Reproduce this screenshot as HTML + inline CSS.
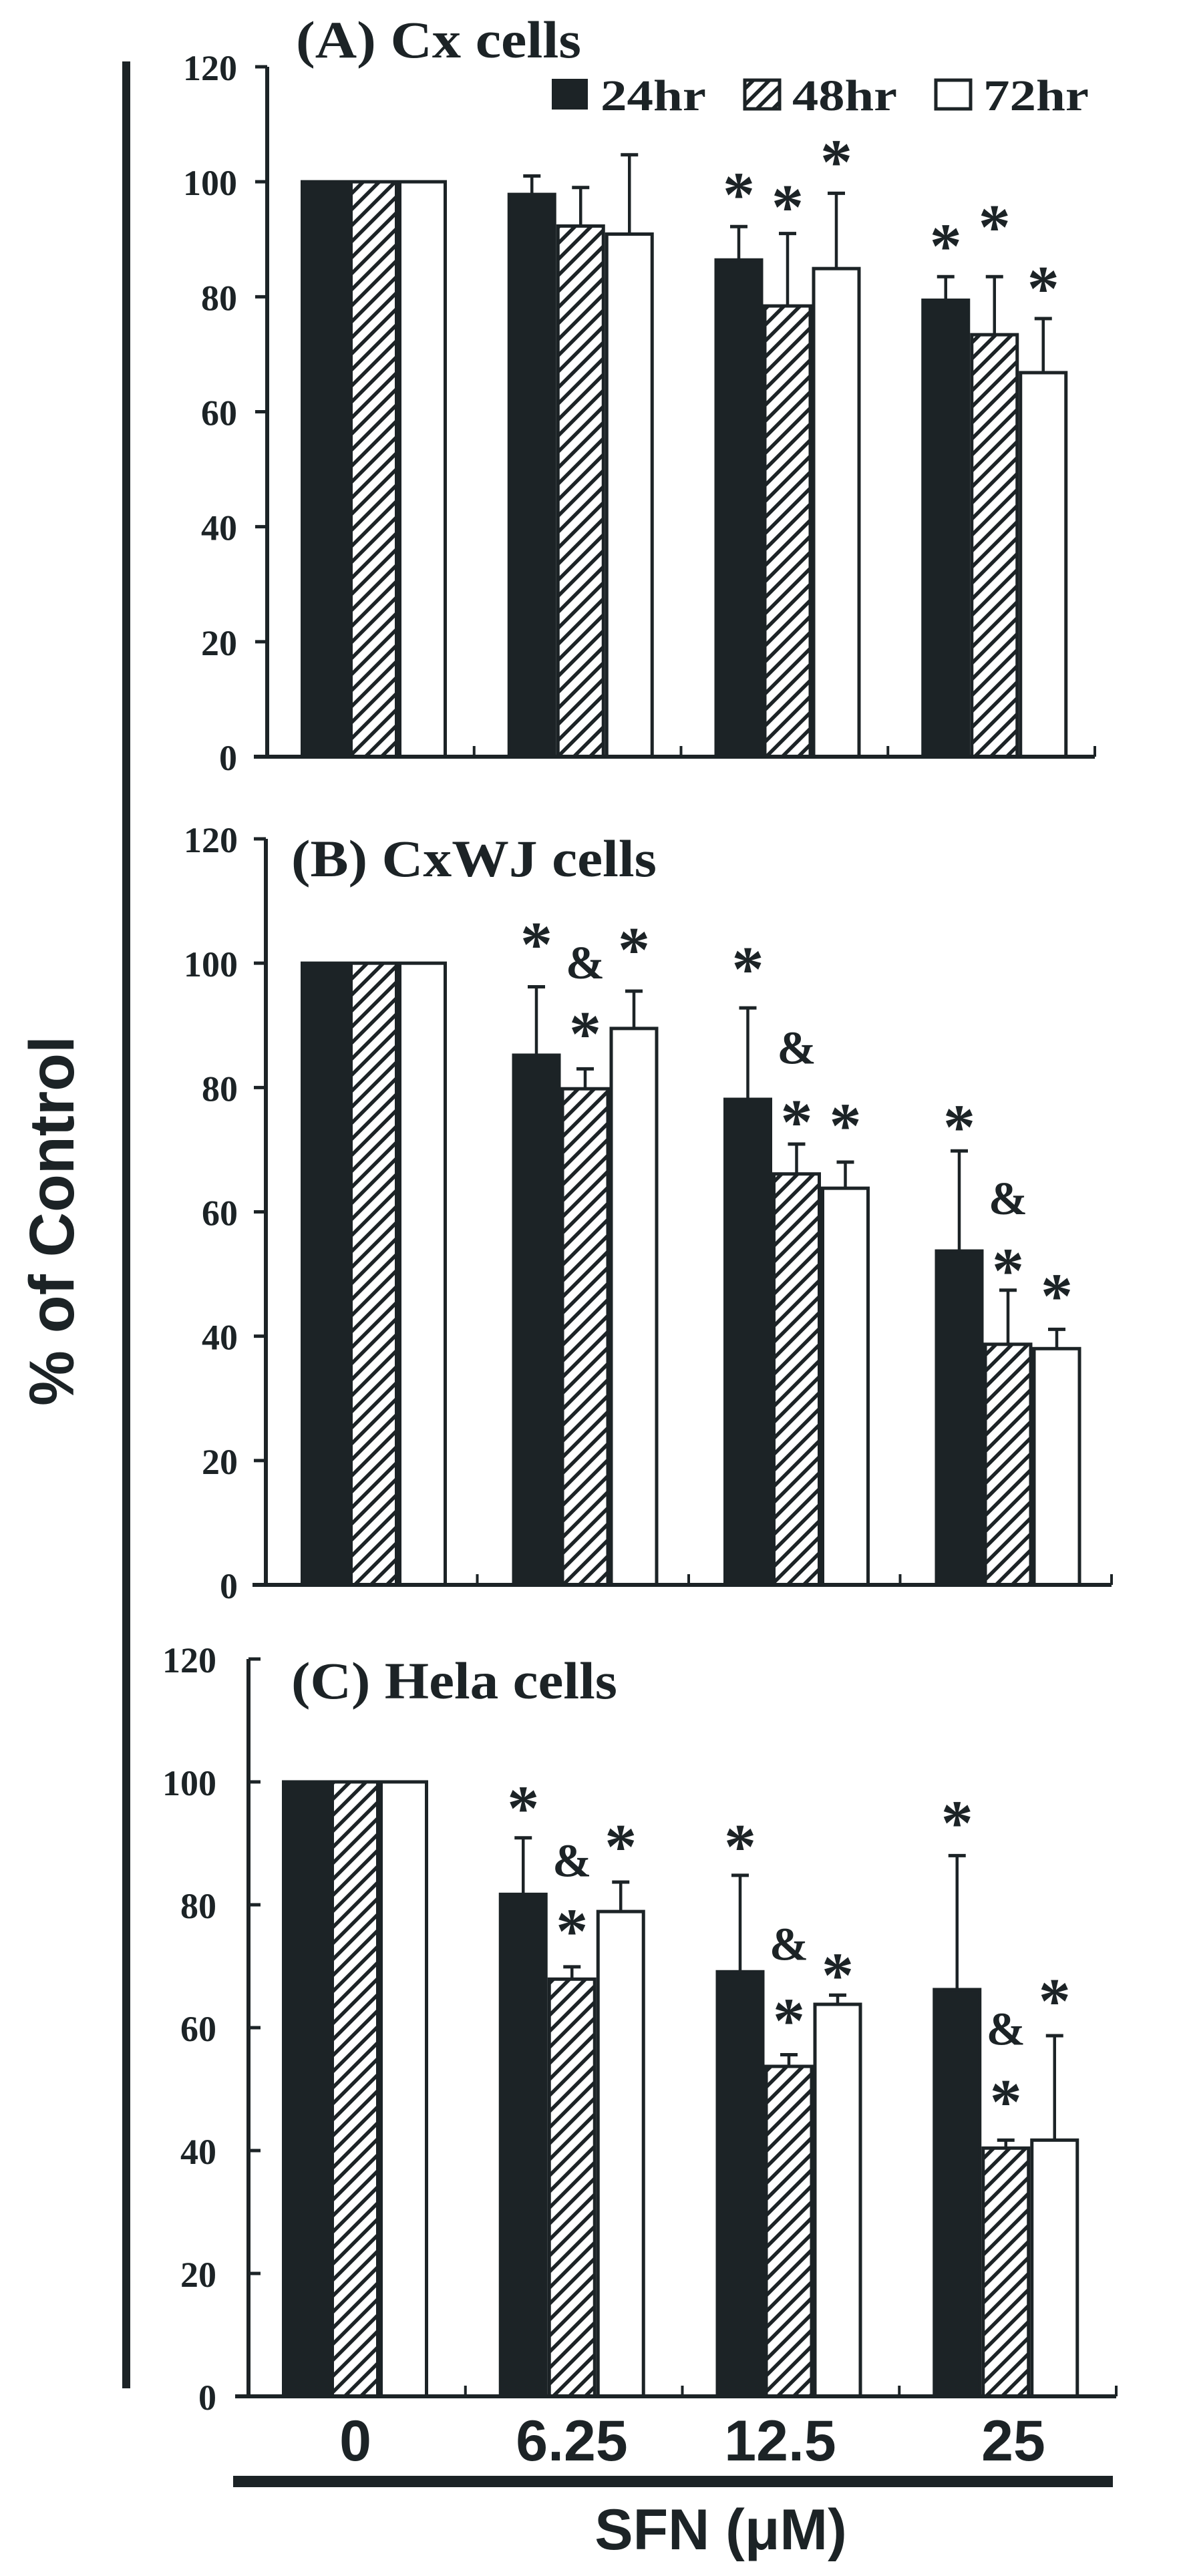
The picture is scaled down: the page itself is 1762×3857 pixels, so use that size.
<!DOCTYPE html>
<html><head><meta charset="utf-8"><style>
html,body{margin:0;padding:0;background:#fff;}
svg{display:block;}
</style></head><body>
<svg id="fig" width="1762" height="3857" viewBox="0 0 1762 3857" xmlns="http://www.w3.org/2000/svg">
<defs>
<pattern id="hatch" patternUnits="userSpaceOnUse" width="24" height="24" patternTransform="rotate(0)">
<rect width="24" height="24" fill="#fff"/>
<path d="M-6,30 L30,-6 M-6,6 L6,-6 M18,30 L30,18" stroke="#1c2326" stroke-width="5.5"/>
</pattern>
</defs>
<rect x="183" y="92" width="12" height="3484" fill="#1c2326"/>
<text transform="translate(110,1828) rotate(-90)" text-anchor="middle" font-family="Liberation Sans, sans-serif" font-weight="bold" font-size="95" fill="#1c2326" textLength="554" lengthAdjust="spacingAndGlyphs">% of Control</text>
<g id="panels"></g>
<g font-family="Liberation Sans, sans-serif" font-weight="bold" font-size="86" fill="#1c2326" text-anchor="middle">
<text x="532" y="3684">0</text>
<text x="856" y="3684">6.25</text>
<text x="1168" y="3684">12.5</text>
<text x="1517" y="3684">25</text>
</g>
<rect x="349" y="3707" width="1317" height="17" fill="#1c2326"/>
<text x="1079" y="3817" text-anchor="middle" font-family="Liberation Sans, sans-serif" font-weight="bold" font-size="86" fill="#1c2326">SFN (μM)</text>
<g font-family="Liberation Serif, serif" font-weight="bold" font-size="66" fill="#1c2326">
<rect x="826" y="118" width="54" height="46" fill="#1c2326"/>
<text x="899" y="165" textLength="158" lengthAdjust="spacingAndGlyphs">24hr</text>
<rect x="1115" y="120" width="52" height="43" fill="url(#hatch)" stroke="#1c2326" stroke-width="5"/>
<text x="1186" y="165" textLength="157" lengthAdjust="spacingAndGlyphs">48hr</text>
<rect x="1401" y="120" width="52" height="43" fill="#fff" stroke="#1c2326" stroke-width="5"/>
<text x="1472" y="165" textLength="158" lengthAdjust="spacingAndGlyphs">72hr</text>
</g>
</svg>
<script>
// Data
const categories = ["0", "6.25", "12.5", "25"];
const seriesNames = ["24hr", "48hr", "72hr"];
const yTicks = [0, 20, 40, 60, 80, 100, 120];
const cxMeans24 = [100, 97.8, 86.4, 79.4];
const cxMeans48 = [100, 92.3, 78.4, 73.4];
const cxMeans72 = [100, 90.9, 84.9, 66.8];
const cxErr24 = [100, 101, 92.2, 83.5];
const cxErr48 = [100, 99, 91, 83.5];
const cxErr72 = [100, 104.7, 98, 76.2];
const cxMarkers = [[2,0,"*",99.3],[2,1,"*",97.2],[2,2,"*",105],[3,0,"*",90.4],[3,1,"*",93.7],[3,2,"*",83]];
const wjMeans24 = [100, 85.2, 78.1, 53.7];
const wjMeans48 = [100, 79.8, 66.1, 38.7];
const wjMeans72 = [100, 89.5, 63.8, 38];
const wjErr24 = [100, 96.2, 92.8, 69.8];
const wjErr48 = [100, 83, 70.9, 47.4];
const wjErr72 = [100, 95.5, 68, 41.1];
const wjMarkers = [[1,0,"*",104.5],[1,1,"&",99.9],[1,1,"*",90.1],[1,2,"*",103.6],[2,0,"*",100.5],[2,1,"&",86.2],[2,1,"*",75.9],[2,2,"*",75.3],[3,0,"*",75.1],[3,1,"&",62],[3,1,"*",52],[3,2,"*",47.9]];
const helaMeans24 = [100, 81.7, 69.1, 66.2];
const helaMeans48 = [100, 67.9, 53.7, 40.4];
const helaMeans72 = [100, 78.9, 63.8, 41.7];
const helaErr24 = [100, 90.9, 84.8, 88];
const helaErr48 = [100, 69.9, 55.6, 41.7];
const helaErr72 = [100, 83.7, 65.3, 58.7];
const helaMarkers = [[1,0,"*",97.2],[1,1,"&",87],[1,1,"*",77.2],[1,2,"*",90.9],[2,0,"*",90.9],[2,1,"&",73.4],[2,1,"*",62.6],[2,2,"*",70],[3,0,"*",94.8],[3,1,"&",59.6],[3,1,"*",49.4],[3,2,"*",65.8]];

const NS = "http://www.w3.org/2000/svg";
const INK = "#1c2326";
const panels = [
  {key:"cx", title:"(A) Cx cells", titleX:443, titleY:86, titleW:427, ax:400, x1:1639, y0:1133, y120:100, labelGap:45, tickDir:-1, off:50,
   means:[cxMeans24,cxMeans48,cxMeans72], errs:[cxErr24,cxErr48,cxErr72], markers:cxMarkers},
  {key:"cxwj", title:"(B) CxWJ cells", titleX:436, titleY:1312, titleW:547, ax:398, x1:1664, y0:2373, y120:1256, labelGap:42, tickDir:-1, off:52,
   means:[wjMeans24,wjMeans48,wjMeans72], errs:[wjErr24,wjErr48,wjErr72], markers:wjMarkers},
  {key:"hela", title:"(C) Hela cells", titleX:436, titleY:2543, titleW:488, ax:372, x1:1671, y0:3588, y120:2484, labelGap:48, tickDir:1, off:50,
   means:[helaMeans24,helaMeans48,helaMeans72], errs:[helaErr24,helaErr48,helaErr72], markers:helaMarkers}
];
const BW = 73;
function mk(tag, attrs, parent){const e=document.createElementNS(NS,tag);for(const k in attrs)e.setAttribute(k,attrs[k]);parent.appendChild(e);return e;}
const root = document.getElementById("panels");
panels.forEach(p=>{
  const g = mk("g",{},root);
  
  
  const yS = v => p.y0 - (p.y0 - p.y120) * v / 120;
  const cw = (p.x1 - p.ax) / categories.length;
  const xS = (c, s) => p.ax + c * cw + p.off + s * BW;
  // bars
  p.means.forEach((arr, s)=>{
    arr.forEach((v, c)=>{
      const x = xS(c, s), y = yS(v);
      const eTop = yS(p.errs[s][c]);
      if (p.errs[s][c] > v + 0.3) {
        const el = mk("line",{x1:x+BW/2,x2:x+BW/2,y1:y,y2:eTop,stroke:INK,"stroke-width":4.5},g);
        
        
        const cap = mk("line",{x1:x+BW/2-13,x2:x+BW/2+13,y1:eTop,y2:eTop,stroke:INK,"stroke-width":5},g);
        
        
      }
      const fill = s===0 ? INK : (s===1 ? "url(#hatch)" : "#fff");
      const r = mk("rect",{x:x+2.5,y:y,width:BW-5,height:p.y0-y,fill:fill,stroke:INK,"stroke-width":5},g);
      
      
    });
  });
  // axes
  const ya = mk("line",{x1:p.ax,x2:p.ax,y1:p.y120,y2:p.y0,stroke:INK,"stroke-width":6},g);
  
  
  const xa = mk("line",{x1:p.ax-20,x2:p.x1,y1:p.y0,y2:p.y0,stroke:INK,"stroke-width":6},g);
  
  
  for (let c=1;c<=categories.length;c++){
    const tx = p.ax + c*cw;
    const t = mk("line",{x1:tx,x2:tx,y1:p.y0,y2:p.y0-16,stroke:INK,"stroke-width":4},g);
    
    
  }
  yTicks.forEach(v=>{
    const y = yS(v);
    const t = mk("line",{x1:p.ax,x2:p.ax+p.tickDir*18,y1:y,y2:y,stroke:INK,"stroke-width":5},g);
    
    
    const lb = mk("text",{x:p.ax-p.labelGap,y:y+20,"text-anchor":"end","font-family":"Liberation Serif, serif","font-weight":"bold","font-size":54,fill:INK},g);
    lb.textContent = String(v);
    
    
  });
  // title
  const tt = mk("text",{x:p.titleX,y:p.titleY,"font-family":"Liberation Serif, serif","font-weight":"bold","font-size":78,fill:INK,textLength:p.titleW,lengthAdjust:"spacingAndGlyphs"},g);
  tt.textContent = p.title;
  
  
  // markers
  p.markers.forEach(m=>{
    const cx = xS(m[0], m[1]) + BW/2;
    const cy = yS(m[3]);
    const isStar = m[2]==="*";
    const t = mk("text",{x:cx,y:isStar?cy+46:cy+22,"text-anchor":"middle","font-family":"Liberation Serif, serif","font-weight":"bold","font-size":isStar?96:70,fill:INK},g);
    t.textContent = m[2];
    
    
  });
});
</script>
</body></html>
